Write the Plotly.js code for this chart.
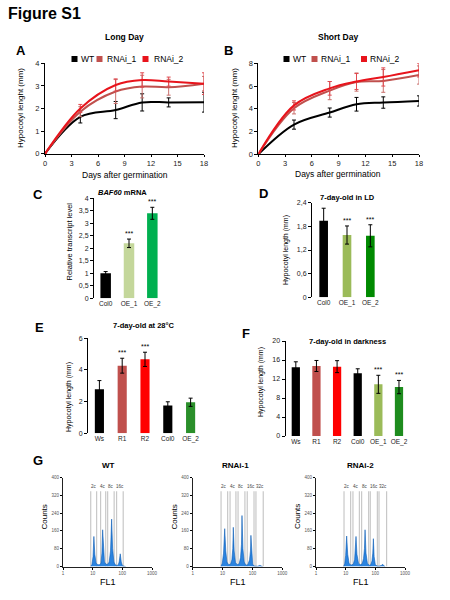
<!DOCTYPE html>
<html><head><meta charset="utf-8">
<script src="https://cdn.plot.ly/plotly-3.0.1.min.js"></script>
<style>html,body{margin:0;padding:0;background:#fff}#chart{width:450px;height:600px}</style>
</head><body><div id="chart"></div>
<script>
// ================= DATA =================
// Panels A & B: hypocotyl length vs days after germination
const days = [0, 4, 8, 11, 14, 18];
const seriesNames = ['WT', 'RNAi_1', 'RNAi_2'];
const ldWT = [0, 1.63, 1.93, 2.27, 2.27, 2.28];
const ldWTErr = [0, 0.27, 0.38, 0.38, 0.2, 0.44];
const ldRNAi1 = [0, 1.86, 2.75, 2.97, 2.94, 3.1];
const ldRNAi1Err = [0, 0.22, 0.53, 0.5, 0.35, 0.32];
const ldRNAi2 = [0, 2.0, 3.04, 3.26, 3.19, 3.1];
const ldRNAi2Err = [0, 0.18, 0.27, 0.32, 0.2, 0.48];
const sdWT = [0, 2.61, 3.67, 4.4, 4.55, 4.69];
const sdWTErr = [0, 0.4, 0.4, 0.6, 0.5, 0.45];
const sdRNAi1 = [0, 4.05, 5.6, 6.35, 6.45, 6.97];
const sdRNAi1Err = [0, 0.5, 0.8, 0.8, 1.0, 0.8];
const sdRNAi2 = [0, 4.3, 5.8, 6.4, 6.8, 7.4];
const sdRNAi2Err = [0, 0.4, 0.6, 0.7, 0.8, 0.6];

// Panel C: BAF60 mRNA
const cCats = ['Col0', 'OE_1', 'OE_2'];
const cVals = [1.0, 2.2, 3.4];
const cErr = [0.07, 0.17, 0.24];
const cSig = ['', '***', '***'];
// Panel D: 7-day-old in LD
const dCats = ['Col0', 'OE_1', 'OE_2'];
const dVals = [1.94, 1.58, 1.56];
const dErr = [0.32, 0.23, 0.28];
const dSig = ['', '***', '***'];
// Panel E: 7-day-old at 28°C
const eCats = ['Ws', 'R1', 'R2', 'Col0', 'OE_2'];
const eVals = [2.78, 4.27, 4.67, 1.75, 1.96];
const eErr = [0.55, 0.47, 0.45, 0.24, 0.26];
const eSig = ['', '***', '***', '', ''];
// Panel F: 7-day-old in darkness
const fCats = ['Ws', 'R1', 'R2', 'Col0', 'OE_1', 'OE_2'];
const fVals = [14.46, 14.74, 14.6, 13.2, 10.88, 10.3];
const fErr = [1.16, 1.16, 1.26, 0.95, 1.9, 1.4];
const fSig = ['', '', '', '', '***', '***'];

// Panel G: flow cytometry histograms (FL1 vs counts, outline points)
const wtFL1 = [8.6, 9.5, 10.3, 11.0, 11.8, 13, 15, 17, 19, 20.5, 21.7, 23, 25, 28, 32, 36, 40, 43.6, 47, 52, 58, 65, 72, 78, 85, 92, 100, 110, 130];
const wtCounts = [0, 10, 45, 135, 55, 15, 8, 8, 15, 60, 165, 70, 20, 10, 10, 20, 70, 213, 80, 20, 8, 5, 6, 20, 57, 20, 5, 2, 0];
const r1FL1 = [8.8, 9.8, 10.8, 11.8, 12.8, 14, 16, 18.5, 20.5, 22, 22.9, 24.5, 27, 31, 36, 40, 43, 44.7, 48, 53, 60, 70, 80, 86, 89, 94, 102, 115, 150, 170, 178, 190, 220];
const r1Counts = [0, 15, 60, 170, 70, 20, 8, 10, 30, 80, 176, 70, 18, 8, 12, 40, 100, 229, 80, 20, 6, 8, 30, 70, 140, 50, 10, 2, 1, 4, 6, 3, 0];
const r2FL1 = [8.5, 9.3, 10.0, 10.8, 11.7, 13, 15, 18, 20, 21.3, 22.3, 24, 27, 31, 36, 40, 43, 45, 48.5, 54, 62, 70, 77, 82, 86, 91, 100, 115, 140, 165, 177, 190, 215];
const r2Counts = [0, 12, 50, 137, 55, 15, 6, 10, 30, 70, 135, 55, 15, 8, 12, 35, 80, 165, 60, 15, 5, 8, 25, 60, 125, 45, 8, 2, 2, 6, 10, 4, 0];
const wtGateLo = [8.6, 18.5, 32, 64];
const wtGateHi = [13.6, 27.5, 53, 107];
const wtGateLabels = ['2c', '4c', '8c', '16c'];
const r1GateLo = [8.9, 17.8, 33, 67, 131];
const r1GateHi = [14.8, 28, 56, 113, 230];
const r1GateLabels = ['2c', '4c', '8c', '16c', '32c'];
const r2GateLo = [8.8, 17.6, 34.5, 67.6, 133];
const r2GateHi = [14.7, 29, 59.5, 117, 240];
const r2GateLabels = ['2c', '4c', '8c', '16c', '32c'];

// ================= STYLE =================
const W = 450, H = 600;
const fx = p => p / W, fy = p => 1 - p / H;
const FONT = 'Liberation Sans, Arial, Helvetica, sans-serif';
const seriesColors = ['#000000', '#c0504d', '#e8141c'];
const errColors = ['#000000', '#c9706c', '#e04a50'];

const traces = [];
const annotations = [];
const shapes = [];

function ann(x, y, text, size, opts) {
  annotations.push(Object.assign({
    xref: 'paper', yref: 'paper', x: fx(x), y: fy(y), text: text, showarrow: false,
    font: {size: size, color: '#000', family: FONT}, xanchor: 'center', yanchor: 'middle'
  }, opts || {}));
}

// ---- line panels ----
function linePanel(xa, ya, series, errs) {
  series.forEach((ys, i) => {
    traces.push({
      type: 'scatter', mode: 'lines', x: days, y: ys, xaxis: xa, yaxis: ya,
      line: {color: seriesColors[i], width: 2, shape: 'spline', smoothing: 1},
      error_y: {type: 'data', array: errs[i], color: errColors[i], thickness: 1, width: 2},
      cliponaxis: false, showlegend: false, hoverinfo: 'skip'
    });
  });
}
linePanel('x', 'y', [ldWT, ldRNAi1, ldRNAi2], [ldWTErr, ldRNAi1Err, ldRNAi2Err]);
linePanel('x2', 'y2', [sdWT, sdRNAi1, sdRNAi2], [sdWTErr, sdRNAi1Err, sdRNAi2Err]);

// manual legends (square swatch + label)
function legend(sqX, txtX, yc) {
  seriesNames.forEach((n, i) => {
    shapes.push({type: 'rect', xref: 'paper', yref: 'paper',
      x0: fx(sqX[i] - 3), x1: fx(sqX[i] + 3), y0: fy(yc + 3), y1: fy(yc - 3),
      fillcolor: seriesColors[i], line: {width: 0}});
    ann(txtX[i], yc, n, 8.5, {xanchor: 'left'});
  });
}
legend([74.5, 99.5, 145.5], [79, 105, 151.5], 59);
legend([286.5, 314.5, 364], [290.5, 319, 367.5], 59);

// ---- bar panels ----
function barPanel(xa, ya, cats, vals, errs, sig, colors, width, starSize) {
  traces.push({
    type: 'bar', x: cats, y: vals, xaxis: xa, yaxis: ya, width: width,
    marker: {color: colors, line: {width: 0}},
    error_y: {type: 'data', array: errs, color: '#000', thickness: 1, width: 2},
    showlegend: false, hoverinfo: 'skip', cliponaxis: false
  });
  sig.forEach((s, i) => {
    if (!s) return;
    annotations.push({xref: xa, yref: ya, x: cats[i], y: vals[i] + errs[i], text: s,
      showarrow: false, yanchor: 'bottom', yshift: 0, font: {size: starSize, color: '#000', family: FONT}});
  });
}
barPanel('x3', 'y3', cCats, cVals, cErr, cSig, ['#000000', '#c4d79b', '#00b050'], 0.45, 7);
barPanel('x4', 'y4', dCats, dVals, dErr, dSig, ['#000000', '#9bbb59', '#008a00'], 0.37, 7);
barPanel('x5', 'y5', eCats, eVals, eErr, eSig, ['#000000', '#c0504d', '#ff0000', '#000000', '#2a8f2a'], 0.4, 7);
barPanel('x6', 'y6', fCats, fVals, fErr, fSig, ['#000000', '#c0504d', '#ff0000', '#000000', '#9bbb59', '#1e8c1e'], 0.4, 7);

// ---- histogram panels ----
function histPanel(xa, ya, fl1, counts, lo, hi, labels) {
  const gx = [], gy = [];
  lo.forEach((l, i) => { gx.push(l, l, null, hi[i], hi[i], null); gy.push(0, 338, null, 0, 338, null); });
  traces.push({type: 'scatter', mode: 'lines', x: gx, y: gy, xaxis: xa, yaxis: ya,
    line: {color: '#c8c8c8', width: 1.2}, showlegend: false, hoverinfo: 'skip'});
  traces.push({type: 'scatter', mode: 'lines', x: fl1, y: counts, xaxis: xa, yaxis: ya,
    fill: 'tozeroy', fillcolor: '#2b84e0', line: {color: '#0b5cb5', width: 0.6},
    showlegend: false, hoverinfo: 'skip'});
  labels.forEach((t, i) => {
    annotations.push({xref: xa, yref: ya, x: Math.log10(Math.sqrt(lo[i] * hi[i])), y: 340, text: t,
      showarrow: false, yanchor: 'bottom', font: {size: 4.5, color: '#444', family: FONT}});
  });
}
histPanel('x7', 'y7', wtFL1, wtCounts, wtGateLo, wtGateHi, wtGateLabels);
histPanel('x8', 'y8', r1FL1, r1Counts, r1GateLo, r1GateHi, r1GateLabels);
histPanel('x9', 'y9', r2FL1, r2Counts, r2GateLo, r2GateHi, r2GateLabels);

// ---- axes ----
const base = {showgrid: false, zeroline: false, showline: true, linecolor: '#000', linewidth: 1,
  ticks: 'outside', ticklen: 3, tickwidth: 1, tickcolor: '#000',
  tickfont: {size: 7.5, color: '#222', family: FONT}, fixedrange: true, automargin: false};
const comma = v => String(v).replace('.', ',');
const ax = (o) => Object.assign({}, base, o);
const dayX = (o) => Object.assign({}, base, {range: [0, 18], tickmode: 'array', tickvals: dayTicks, ticklen: 2}, o);
const catX = (o) => Object.assign({}, base, {type: 'category', showline: false, ticks: '', tickfont: {size: 6.5, color: '#222', family: FONT}}, o);
const numY = (vals, o) => Object.assign({}, base, {tickmode: 'array', tickvals: vals, ticktext: vals.map(comma), tickfont: {size: 7, color: '#222', family: FONT}}, o);
const histX = (o) => Object.assign({}, base, {type: 'log', range: [0, 3], tickmode: 'array', tickvals: [1, 10, 100, 1000], ticktext: ['1', '10', '100', '1000'], linewidth: 1.5, linecolor: '#222', ticklen: 2, tickfont: {size: 4.5, color: '#555', family: FONT}}, o);
const histY = (o) => Object.assign({}, base, {range: [0, 400], tickmode: 'array', tickvals: [0, 80, 160, 240, 320, 400], ticktext: ['0', '80', '160', '240', '320', '400'], linecolor: '#222', ticklen: 2, tickfont: {size: 4.5, color: '#555', family: FONT}}, o);
const dayTicks = [0, 3, 6, 9, 12, 15, 18];

const layout = {
  width: W, height: H, margin: {l: 0, r: 0, t: 0, b: 0},
  paper_bgcolor: '#fff', plot_bgcolor: 'rgba(0,0,0,0)', showlegend: false,
  font: {family: FONT, color: '#000'},
  xaxis: dayX({domain: [fx(45), fx(204)], anchor: 'y'}),
  yaxis: ax({domain: [fy(153.7), fy(63.3)], range: [0, 4], dtick: 1, anchor: 'x'}),
  xaxis2: dayX({domain: [fx(258.3), fx(419)], anchor: 'y2'}),
  yaxis2: ax({domain: [fy(154.3), fy(63.3)], range: [0, 8], dtick: 2, anchor: 'x2'}),
  xaxis3: catX({domain: [fx(94), fx(164)], range: [-0.5, 2.5], anchor: 'y3'}),
  yaxis3: numY([0, 0.5, 1, 1.5, 2, 2.5, 3, 3.5, 4], {domain: [fy(298.3), fy(198.3)], range: [0, 4], anchor: 'x3'}),
  xaxis4: catX({domain: [fx(312), fx(382)], range: [-0.5, 2.5], anchor: 'y4'}),
  yaxis4: numY([0, 0.6, 1.2, 1.8, 2.4], {domain: [fy(297.3), fy(202.7)], range: [0, 2.4], anchor: 'x4'}),
  xaxis5: catX({domain: [fx(88), fx(202)], range: [-0.5, 4.5], anchor: 'y5'}),
  yaxis5: numY([0, 2, 4, 6], {domain: [fy(433.3), fy(338.3)], range: [0, 6], anchor: 'x5'}),
  xaxis6: catX({domain: [fx(285.5), fx(409.3)], range: [-0.5, 5.5], anchor: 'y6'}),
  yaxis6: numY([0, 4, 8, 12, 16, 20], {domain: [fy(436), fy(341)], range: [0, 20], anchor: 'x6'}),
  xaxis7: histX({domain: [fx(63), fx(152)], anchor: 'y7'}),
  yaxis7: histY({domain: [fy(566.5), fy(477.5)], anchor: 'x7'}),
  xaxis8: histX({domain: [fx(192.7), fx(282.3)], anchor: 'y8'}),
  yaxis8: histY({domain: [fy(566.5), fy(477.5)], anchor: 'x8'}),
  xaxis9: histX({domain: [fx(316), fx(405)], anchor: 'y9'}),
  yaxis9: histY({domain: [fy(566.5), fy(477.5)], anchor: 'x9'}),
  annotations: annotations, shapes: shapes
};

// ---- texts ----
ann(6, 13, '<b>Figure S1</b>', 16, {xanchor: 'left'});
ann(21, 51, '<b>A</b>', 13); ann(229, 51, '<b>B</b>', 13);
ann(38, 195, '<b>C</b>', 13); ann(263, 193, '<b>D</b>', 13);
ann(39, 327, '<b>E</b>', 13); ann(246, 333, '<b>F</b>', 13);
ann(38, 460, '<b>G</b>', 13);
ann(124, 37, '<b>Long Day</b>', 8.5); ann(338, 37, '<b>Short Day</b>', 8.5);
ann(21, 108, 'Hypocotyl lenght (mm)', 8, {textangle: -90});
ann(235, 108, 'Hypocotyl lenght (mm)', 8, {textangle: -90});
ann(125, 175, 'Days after germination', 8.5); ann(338, 174, 'Days after germination', 8.5);
ann(122, 192, '<b><i>BAF60</i> mRNA</b>', 7.5);
ann(347, 197, '<b>7-day-old in LD</b>', 7.5);
ann(144, 325, '<b>7-day-old at 28°C</b>', 7.5);
ann(347, 342, '<b>7-day-old in darkness</b>', 7.5);
ann(68.5, 242, 'Relative transcript level', 7.5, {textangle: -90});
ann(286, 250, 'Hypocotyl length (mm)', 7, {textangle: -90});
ann(69, 397, 'Hypocotyl length (mm)', 7, {textangle: -90});
ann(261, 382, 'Hypocotyl length (mm)', 7, {textangle: -90});
ann(108, 465, '<b>WT</b>', 8); ann(235, 465, '<b>RNAi-1</b>', 8); ann(360, 465, '<b>RNAi-2</b>', 8);
ann(43.5, 517, 'Counts', 8, {textangle: -90}); ann(173.5, 517, 'Counts', 8, {textangle: -90}); ann(297, 517, 'Counts', 8, {textangle: -90});
ann(107.5, 582, 'FL1', 9); ann(237.5, 582, 'FL1', 9); ann(360.5, 582, 'FL1', 9);

Plotly.newPlot('chart', traces, layout, {staticPlot: true, displayModeBar: false});
</script></body></html>
